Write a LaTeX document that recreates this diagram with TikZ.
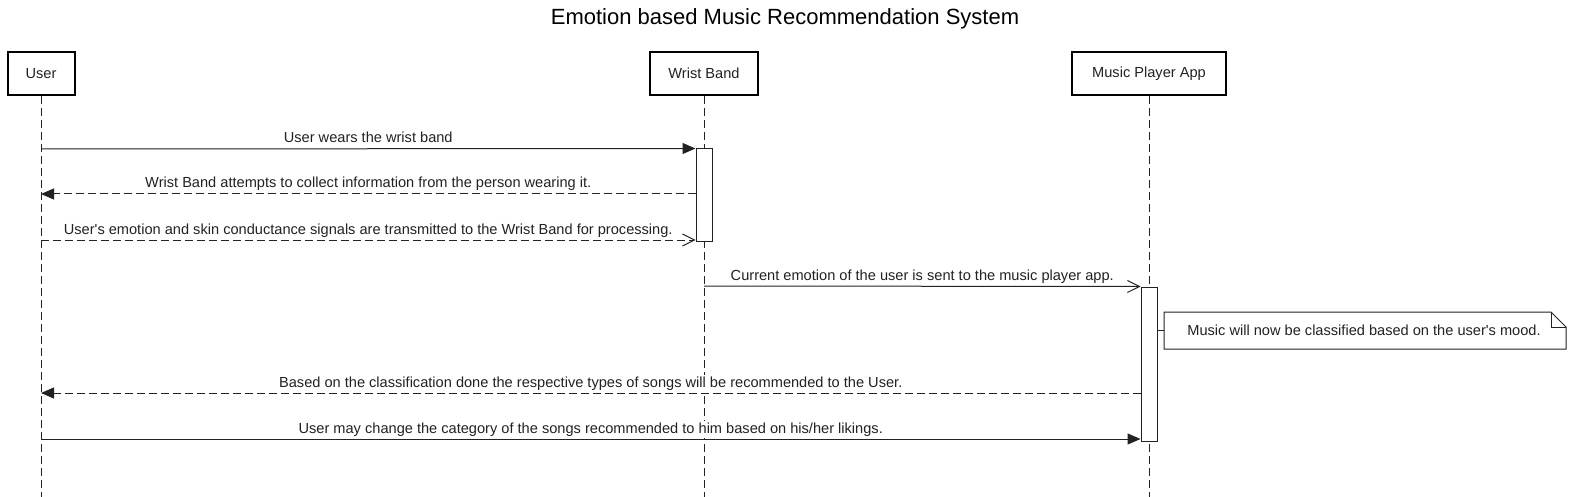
\documentclass[tikz,border=0pt]{standalone}
\usepackage{fontspec}
\setmainfont{Liberation Sans}[Ligatures=TeXOff]
\usetikzlibrary{arrows.meta}
\definecolor{ink}{HTML}{222222}
\begin{document}
\begin{tikzpicture}[x=1pt,y=-1pt,
  font=\fontsize{14.6}{17}\selectfont, text=ink,
  actor/.style={draw=black, line width=2pt, minimum height=43pt, inner sep=0pt, fill=white},
  life/.style={draw=ink, line width=1pt, dash pattern=on 8pt off 4pt},
  actbar/.style={draw=ink, fill=white, line width=1pt, minimum width=16pt, inner sep=0pt},
  msg/.style={draw=ink, line width=1pt},
  dmsg/.style={msg, dash pattern=on 8pt off 4pt},
  fullhead/.style={-{Triangle[length=13pt,width=11pt]}},
  openhead/.style={-{Straight Barb[length=12pt,width=12pt,line width=1pt]}},
  lbl/.style={anchor=base, inner xsep=1pt, inner ysep=1.5pt, fill=white, yshift=6pt},
  notebox/.style={draw=ink, line width=1pt, fill=white}
]
\useasboundingbox (0,0) rectangle (1573,497);

\node[font=\fontsize{22}{26}\selectfont, text=black] (title) at (785,19) {Emotion based Music Recommendation System};

% lifeline ends
\coordinate (uEnd) at (41,497);
\coordinate (wEnd) at (704,497);
\coordinate (mEnd) at (1149,497);

% actors
\node[actor, minimum width=67pt] (user) at (41,73.5) {User};
\node[actor, minimum width=108pt] (wrist) at (704,73.5) {Wrist Band};
\node[actor, minimum width=154pt] (music) at (1149,73.5) {Music Player App};

% lifelines
\draw[life] (user.south) -- (uEnd);
\draw[life] (wrist.south) -- (wEnd);
\draw[life] (music.south) -- (mEnd);

% activation bars
\node[actbar, minimum height=92pt] (wact) at (704,195) {};
\node[actbar, minimum height=154pt] (mact) at (1149,364) {};

% message endpoints
\coordinate (u1) at (41,149);
\coordinate (u2) at (41,194);
\coordinate (u3) at (41,240);
\coordinate (u5) at (41,393);
\coordinate (u6) at (41,439);
\coordinate (w4) at (704,286);

% messages
\draw[msg, fullhead] (u1) -- (wact.north west)
  node[lbl, midway] {User wears the wrist band};
\draw[dmsg, fullhead] (wact.west |- u2) -- (u2)
  node[lbl, midway] {Wrist Band attempts to collect information from the person wearing it.};
\draw[dmsg, openhead] (u3) -- (wact.west |- u3)
  node[lbl, midway] {User's emotion and skin conductance signals are transmitted to the Wrist Band for processing.};
\draw[msg, openhead] (w4) -- (mact.north west)
  node[lbl, midway] {Current emotion of the user is sent to the music player app.};
\draw[dmsg, fullhead] (mact.west |- u5) -- (u5)
  node[lbl, midway] {Based on the classification done the respective types of songs will be recommended to the User.};
\draw[msg, fullhead] (u6) -- (mact.west |- u6)
  node[lbl, midway] {User may change the category of the songs recommended to him based on his/her likings.};

% note
\draw[notebox] (1164,312) -- (1551,312) -- (1566,327) -- (1566,349) -- (1164,349) -- cycle;
\draw[draw=ink, line width=1pt] (1551,312) -- (1551,327) -- (1566,327);
\node[inner sep=0pt] (note) at (1364,330) {Music will now be classified based on the user's mood.};
\coordinate (noteL) at (1164,330);
\draw[msg] (mact.east |- noteL) -- (noteL);
\end{tikzpicture}
\end{document}
